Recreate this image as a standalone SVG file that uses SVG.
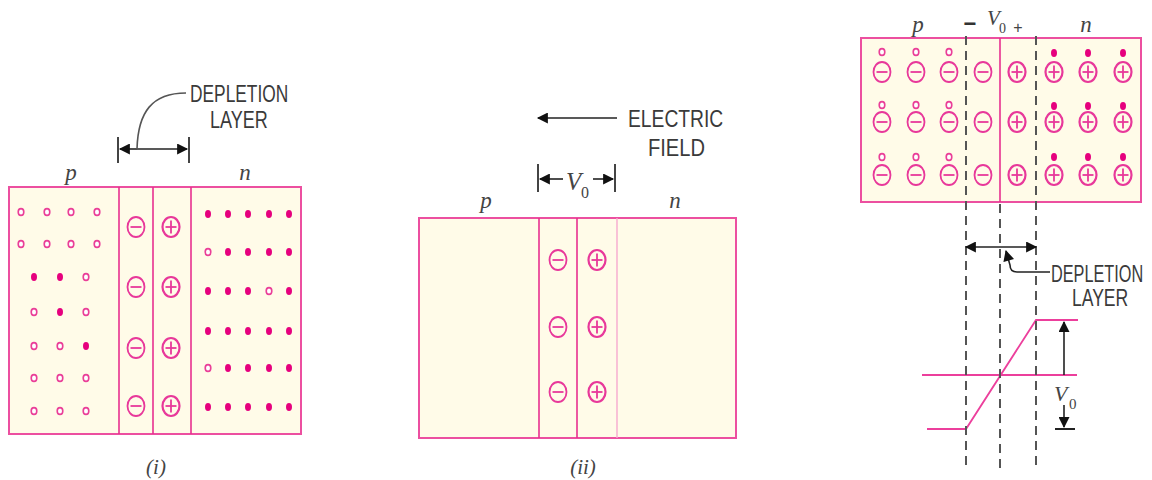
<svg xmlns="http://www.w3.org/2000/svg" xmlns:xlink="http://www.w3.org/1999/xlink" width="1152" height="480" viewBox="0 0 1152 480">
<style>
.bg{fill:#fffbe8;stroke:#ec4fa0;stroke-width:2}
.div{stroke:#e8308f;stroke-width:1.6}
.divl{stroke:#f6a9cf;stroke-width:1.4}
.ion{fill:none;stroke:#e8389a;stroke-width:1.8}
.hole{fill:#fff;stroke:#ea3f98;stroke-width:1.6}
.elec{fill:#e6007e}
.lab{font-family:"Liberation Sans",Arial,sans-serif;font-size:23px;fill:#3a3a3a}
.it{font-family:"Liberation Serif","Times New Roman",serif;font-style:italic;font-size:23px;fill:#444}
.cap{font-family:"Liberation Serif","Times New Roman",serif;font-style:italic;font-size:21px;fill:#444}
.ln{stroke:#222;stroke-width:1.6;fill:none}
.tick{stroke:#444;stroke-width:2}
.dash{stroke:#555;stroke-width:2;stroke-dasharray:9,6;fill:none}
.pk{stroke:#ec3f9c;stroke-width:1.8;fill:none}
</style>
<defs>
<marker id="ah" viewBox="0 0 10 10" refX="9" refY="5" markerWidth="12" markerHeight="11" markerUnits="userSpaceOnUse" orient="auto-start-reverse"><path d="M0,0 L10,5 L0,10 Z" fill="#111"/></marker>
<g id="neg"><ellipse rx="8.5" ry="10" class="ion"/><line x1="-5.5" x2="5.5" y1="0" y2="0" class="ion"/></g>
<g id="pos"><ellipse rx="8.5" ry="10" class="ion" style="stroke-width:2.2"/><line x1="-5.5" x2="5.5" y1="0" y2="0" class="ion"/><line x1="0" x2="0" y1="-6.5" y2="6.5" class="ion"/></g>
<ellipse id="h" rx="2.8" ry="3.4" class="hole"/>
<ellipse id="e" rx="3" ry="4" class="elec"/>
</defs>

<!-- Diagram (i) -->
<g id="junction-i">
<rect x="9" y="187" width="292" height="247" class="bg"/>
<line x1="119" y1="187" x2="119" y2="434" class="div"/>
<line x1="153" y1="187" x2="153" y2="434" class="div"/>
<line x1="191" y1="187" x2="191" y2="434" class="div"/>
<text x="71" y="180" class="it" text-anchor="middle">p</text>
<text x="245" y="180" class="it" text-anchor="middle">n</text>
<g id="p-carriers-i">
<use href="#h" x="21" y="212"/><use href="#h" x="47" y="212"/><use href="#h" x="71" y="212"/><use href="#h" x="97" y="212"/>
<use href="#h" x="21" y="244"/><use href="#h" x="47" y="244"/><use href="#h" x="71" y="244"/><use href="#h" x="97" y="244"/>
<use href="#e" x="34" y="277"/><use href="#e" x="60" y="277"/><use href="#h" x="86" y="277"/>
<use href="#h" x="34" y="312"/><use href="#e" x="60" y="312"/><use href="#h" x="86" y="312"/>
<use href="#h" x="34" y="346"/><use href="#h" x="60" y="346"/><use href="#e" x="86" y="346"/>
<use href="#h" x="34" y="378"/><use href="#h" x="60" y="378"/><use href="#h" x="86" y="378"/>
<use href="#h" x="34" y="411"/><use href="#h" x="60" y="411"/><use href="#h" x="86" y="411"/>
</g>
<g id="ions-i">
<use href="#neg" x="136" y="227"/><use href="#neg" x="136" y="287"/><use href="#neg" x="136" y="348"/><use href="#neg" x="136" y="406"/>
<use href="#pos" x="171" y="227"/><use href="#pos" x="171" y="287"/><use href="#pos" x="171" y="348"/><use href="#pos" x="171" y="406"/>
</g>
<g id="n-carriers-i">
<use href="#e" x="208" y="214"/><use href="#e" x="228" y="214"/><use href="#e" x="248" y="214"/><use href="#e" x="269" y="214"/><use href="#e" x="289" y="214"/>
<use href="#h" x="208" y="252"/><use href="#e" x="228" y="252"/><use href="#e" x="248" y="252"/><use href="#e" x="269" y="252"/><use href="#e" x="289" y="252"/>
<use href="#e" x="208" y="291"/><use href="#e" x="228" y="291"/><use href="#e" x="248" y="291"/><use href="#h" x="269" y="291"/><use href="#e" x="289" y="291"/>
<use href="#e" x="208" y="331"/><use href="#e" x="228" y="331"/><use href="#e" x="248" y="331"/><use href="#e" x="269" y="331"/><use href="#e" x="289" y="331"/>
<use href="#h" x="208" y="368"/><use href="#e" x="228" y="368"/><use href="#e" x="248" y="368"/><use href="#e" x="269" y="368"/><use href="#e" x="289" y="368"/>
<use href="#e" x="208" y="407"/><use href="#e" x="228" y="407"/><use href="#e" x="248" y="407"/><use href="#e" x="269" y="407"/><use href="#e" x="289" y="407"/>
</g>
<text x="156" y="474" class="cap" text-anchor="middle">(i)</text>
</g>

<g id="depletion-label-i">
<text transform="translate(190,102) scale(0.75,1)" class="lab" textLength="131" lengthAdjust="spacingAndGlyphs">DEPLETION</text>
<text transform="translate(210,128) scale(0.75,1)" class="lab" textLength="77" lengthAdjust="spacingAndGlyphs">LAYER</text>
</g>

<!-- Diagram (ii) -->
<g id="junction-ii">
<rect x="419" y="218" width="317" height="220" class="bg"/>
<line x1="539" y1="218" x2="539" y2="438" class="div"/>
<line x1="577" y1="218" x2="577" y2="438" class="div"/>
<line x1="617" y1="218" x2="617" y2="438" class="divl"/>
<text x="486" y="208" class="it" text-anchor="middle">p</text>
<text x="675" y="208" class="it" text-anchor="middle">n</text>
<use href="#neg" x="558" y="260"/><use href="#neg" x="558" y="327"/><use href="#neg" x="558" y="392"/>
<use href="#pos" x="597" y="260"/><use href="#pos" x="597" y="327"/><use href="#pos" x="597" y="392"/>
<text x="583" y="474" class="cap" text-anchor="middle">(ii)</text>
</g>
<g id="field-label-ii">
<text transform="translate(628,127) scale(0.75,1)" class="lab" textLength="127" lengthAdjust="spacingAndGlyphs">ELECTRIC</text>
<text transform="translate(648,156) scale(0.75,1)" class="lab" textLength="76" lengthAdjust="spacingAndGlyphs">FIELD</text>
<text x="566" y="190" class="it" style="font-size:25px">V</text>
<text x="581" y="198" class="it" style="font-size:16px;font-style:normal">0</text>
</g>

<!-- Diagram (iii) -->
<g id="junction-iii">
<rect x="861" y="38" width="280" height="164" class="bg"/>
<line x1="1000" y1="38" x2="1000" y2="202" class="div"/>
<text x="918" y="32" class="it" text-anchor="middle">p</text>
<text x="1086" y="32" class="it" text-anchor="middle">n</text>
<text x="970" y="31" text-anchor="middle" style="font-family:'Liberation Sans',Arial,sans-serif;font-size:22px;font-weight:bold;fill:#333">−</text>
<text x="987" y="25" class="it" style="font-size:21px">V</text>
<text x="999" y="33" class="it" style="font-size:14px;font-style:normal">0</text>
<text x="1018" y="33" text-anchor="middle" style="font-family:'Liberation Sans',Arial,sans-serif;font-size:16px;fill:#444">+</text>
<g id="ions-iii">
<use href="#neg" x="882" y="72"/><use href="#neg" x="916" y="72"/><use href="#neg" x="949" y="72"/><use href="#neg" x="983" y="72"/>
<use href="#pos" x="1017" y="72"/><use href="#pos" x="1054" y="72"/><use href="#pos" x="1088" y="72"/><use href="#pos" x="1123" y="72"/>
<use href="#neg" x="882" y="122"/><use href="#neg" x="916" y="122"/><use href="#neg" x="949" y="122"/><use href="#neg" x="983" y="122"/>
<use href="#pos" x="1017" y="122"/><use href="#pos" x="1054" y="122"/><use href="#pos" x="1088" y="122"/><use href="#pos" x="1123" y="122"/>
<use href="#neg" x="882" y="175"/><use href="#neg" x="916" y="175"/><use href="#neg" x="949" y="175"/><use href="#neg" x="983" y="175"/>
<use href="#pos" x="1017" y="175"/><use href="#pos" x="1054" y="175"/><use href="#pos" x="1088" y="175"/><use href="#pos" x="1123" y="175"/>
</g>
<g id="carriers-iii">
<use href="#h" x="882" y="52"/><use href="#h" x="916" y="52"/><use href="#h" x="949" y="52"/>
<use href="#e" x="1054" y="53"/><use href="#e" x="1088" y="53"/><use href="#e" x="1123" y="53"/>
<use href="#h" x="882" y="105"/><use href="#h" x="916" y="105"/><use href="#h" x="949" y="105"/>
<use href="#e" x="1054" y="106"/><use href="#e" x="1088" y="106"/><use href="#e" x="1123" y="106"/>
<use href="#h" x="882" y="157"/><use href="#h" x="916" y="157"/><use href="#h" x="949" y="157"/>
<use href="#e" x="1054" y="157"/><use href="#e" x="1088" y="157"/><use href="#e" x="1123" y="157"/>
</g>
</g>
<g id="depletion-label-iii">
<text transform="translate(1051,282) scale(0.75,1)" class="lab" textLength="123" lengthAdjust="spacingAndGlyphs">DEPLETION</text>
<text transform="translate(1072,306) scale(0.75,1)" class="lab" textLength="75" lengthAdjust="spacingAndGlyphs">LAYER</text>
</g>
<g id="potential-iii">
<polyline points="927,429 966,429 1036,320 1078,320" class="pk"/>
<line x1="922" y1="375" x2="1077" y2="375" class="pk"/>
<text x="1054" y="401" class="it" style="font-size:22px">V</text>
<text x="1069" y="409" class="it" style="font-size:15px;font-style:normal">0</text>
</g>

<g id="connectors">
<line x1="118" y1="137" x2="118" y2="163" class="tick"/>
<line x1="189" y1="137" x2="189" y2="163" class="tick"/>
<line x1="137" y1="149" x2="120" y2="149" class="ln" marker-end="url(#ah)"/>
<line x1="137" y1="149" x2="187" y2="149" class="ln" marker-end="url(#ah)"/>
<path d="M137,149 C138,112 152,93 186,93" class="ln" style="stroke:#555"/>
<line x1="617" y1="118" x2="538" y2="118" class="ln" marker-end="url(#ah)"/>
<line x1="538" y1="164" x2="538" y2="192" class="tick"/>
<line x1="615" y1="164" x2="615" y2="192" class="tick"/>
<line x1="563" y1="179" x2="540" y2="179" class="ln" marker-end="url(#ah)"/>
<line x1="593" y1="179" x2="613" y2="179" class="ln" marker-end="url(#ah)"/>
<line x1="966" y1="36" x2="966" y2="470" class="dash"/>
<line x1="1036" y1="36" x2="1036" y2="470" class="dash"/>
<line x1="1000" y1="204" x2="1000" y2="470" class="dash"/>
<line x1="966" y1="247" x2="1036" y2="247" class="ln" marker-start="url(#ah)" marker-end="url(#ah)"/>
<path d="M1050,272 L1017,272 Q1010,272 1010,265 L1006,251" class="ln" marker-end="url(#ah)"/>
<line x1="1064" y1="375" x2="1064" y2="322" class="ln" marker-end="url(#ah)"/>
<line x1="1064" y1="405" x2="1064" y2="427" class="ln" marker-end="url(#ah)"/>
<line x1="1055" y1="429" x2="1075" y2="429" class="ln" style="stroke-width:2"/>
</g>
</svg>
